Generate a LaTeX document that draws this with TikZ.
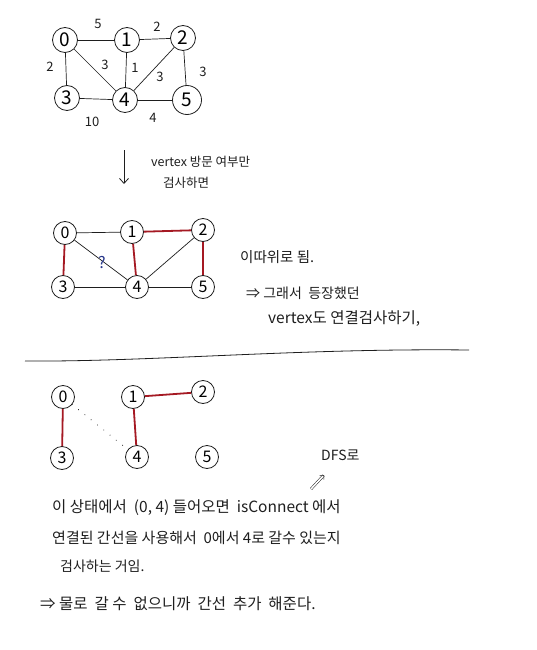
\documentclass[tikz,border=0pt]{standalone}
\usepackage{fontspec}
\setmainfont{Noto Sans CJK KR}
\usetikzlibrary{arrows.meta}
\definecolor{penred}{RGB}{165,25,35}
\definecolor{ink}{RGB}{30,30,30}
\definecolor{penblue}{RGB}{40,55,140}
\newcommand{\fs}[1]{\fontsize{#1}{#1}\selectfont}
\begin{document}
\begin{tikzpicture}[x=1pt,y=-1pt,
  vtx/.style={circle,draw=ink,line width=0.8pt,minimum size=25pt,inner sep=0pt,font=\fs{19}},
  vtxs/.style={vtx,minimum size=23pt,font=\fs{16}},
  edg/.style={draw=ink,line width=0.7pt},
  redg/.style={draw=penred,line width=1.8pt},
  wt/.style={font=\fs{13},text=ink,inner sep=1pt},
  note/.style={font=\fs{13},text=ink,anchor=west,inner sep=0pt}]
\useasboundingbox (0,0) rectangle (537,650);
% ---------- graph 1 ----------
\node[vtx] (a0) at (65,40) {0};
\node[vtx] (a1) at (127,40) {1};
\node[vtx] (a2) at (183,38) {2};
\node[vtx] (a3) at (67,98) {3};
\node[vtx] (a4) at (125,100) {4};
\node[vtx,minimum size=29pt] (a5) at (187,100) {5};
\draw[edg] (a0) -- (a1);
\draw[edg] (a1) -- (a2);
\draw[edg] (a0) -- (a3);
\draw[edg] (a0) -- (a4);
\draw[edg] (a1) -- (a4);
\draw[edg] (a2) -- (a4);
\draw[edg] (a2) -- (a5);
\draw[edg] (a3) -- (a4);
\draw[edg] (a4) -- (a5);
\node[wt] (w01) at (98,24) {5};
\node[wt] (w12) at (157,27) {2};
\node[wt] (w03) at (50,67) {2};
\node[wt] (w04) at (105,65) {3};
\node[wt] (w14) at (135,68) {1};
\node[wt] (w24) at (160,77) {3};
\node[wt] (w25) at (203,72) {3};
\node[wt] (w34) at (92,122) {10};
\node[wt] (w45) at (153,118) {4};
% ---------- arrow + note ----------
\coordinate (arTop) at (124,150);
\coordinate (arBot) at (124,184);
\draw[ink,line width=0.8pt,-{Straight Barb[length=5pt,width=9pt]}] (arTop) -- (arBot);
\node[note,font=\fs{12.5}] (t1) at (151,162) {vertex 방문 여부만};
\node[note,font=\fs{12.5}] (t2) at (163,183) {검사하면};
% ---------- graph 2 ----------
\node[vtxs] (b0) at (65,233) {0};
\node[vtxs] (b1) at (132,232) {1};
\node[vtxs] (b2) at (203,230) {2};
\node[vtxs] (b3) at (63,287) {3};
\node[vtxs] (b4) at (137,287) {4};
\node[vtxs] (b5) at (203,287) {5};
\draw[edg] (b0) -- (b1);
\draw[edg] (b0) -- (b4);
\draw[edg] (b2) -- (b4);
\draw[edg] (b3) -- (b4);
\draw[edg] (b4) -- (b5);
\draw[redg] (b1) -- (b2);
\draw[redg] (b0) -- (b3);
\draw[redg] (b1) -- (b4);
\draw[redg] (b2) -- (b5);
\node[font=\fs{16},text=penblue] (q) at (102,263) {?};
\node[note,font=\fs{14.5}] (t3) at (240,257) {이따위로 됨.};
\node[note,font=\fs{14}] (t4) at (246,293) {⇒ 그래서 \ 등장했던};
\node[note,font=\fs{15.5}] (t5) at (268,319) {vertex도 연결검사하기,};
% ---------- separator ----------
\coordinate (sepL) at (25,361);
\coordinate (sepR) at (469,350);
\draw[ink,line width=0.8pt] (sepL) .. controls (150,362) and (300,348) .. (sepR);
% ---------- graph 3 ----------
\node[vtxs] (c0) at (63,397) {0};
\node[vtxs] (c1) at (133,397) {1};
\node[vtxs] (c2) at (203,392) {2};
\node[vtxs] (c3) at (62,458) {3};
\node[vtxs] (c4) at (137,457) {4};
\node[vtxs] (c5) at (207,457) {5};
\draw[redg] (c0) -- (c3);
\draw[redg] (c1) -- (c4);
\draw[redg] (c1) -- (c2);
\draw[ink,line width=1pt,line cap=round,dash pattern=on 0.1pt off 8pt] (c0) -- (c4);
% ---------- bottom notes ----------
\node[note,font=\fs{14}] (dfs) at (321,455) {DFS로};
\coordinate (dfsArrA) at (311,489);
\coordinate (dfsArrB) at (324,475);
\draw[ink,line width=0.5pt,double,double distance=1.6pt,-{Straight Barb[length=3pt,width=6pt]}] (dfsArrA) -- (dfsArrB);
\node[note,font=\fs{15.5}] (t6) at (52,508) {이 상태에서 \ (0, 4) 들어오면 \ isConnect 에서};
\node[note,font=\fs{15}] (t7) at (52,538) {연결된 간선을 사용해서 \ 0에서 4로 갈수 있는지};
\node[note,font=\fs{14}] (t8) at (60,566) {검사하는 거임.};
\node[note,font=\fs{15.5}] (t9) at (40,604) {⇒ 물로 \ 갈 수 \ 없으니까 \ 간선 \ 추가 \ 해준다.};
\end{tikzpicture}
\end{document}
